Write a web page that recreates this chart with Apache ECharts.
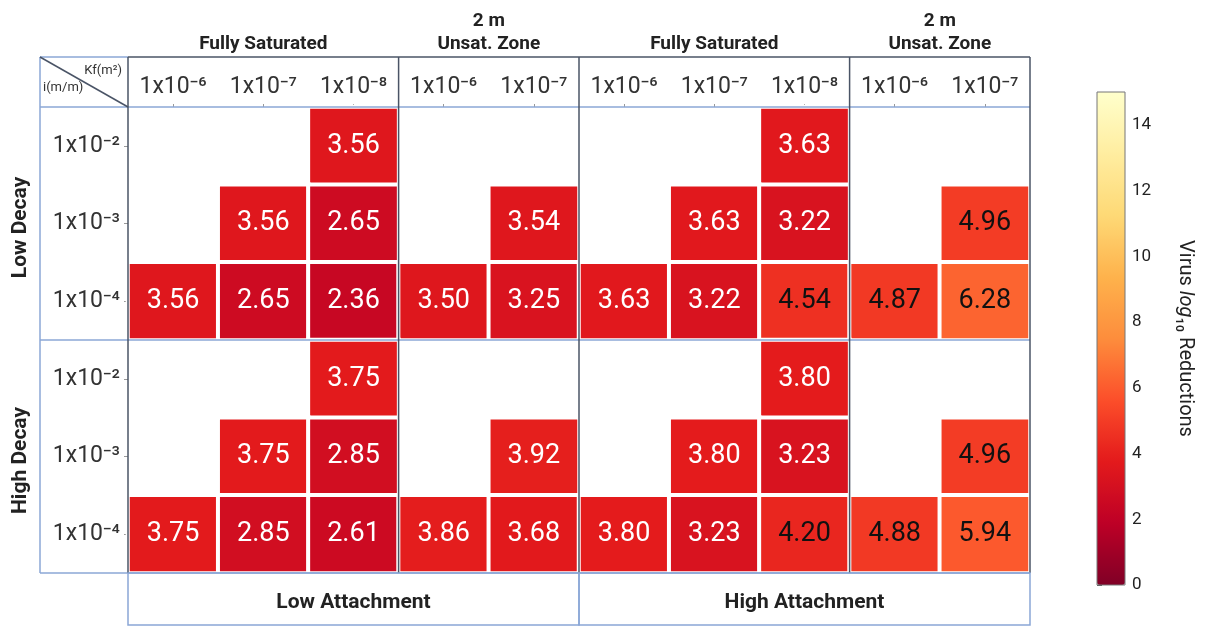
<!DOCTYPE html>
<html>
<head>
<meta charset="utf-8">
<title>Virus log10 reductions</title>
<script src="https://cdn.jsdelivr.net/npm/echarts@6/dist/echarts.min.js"></script>
<style>
  html, body { margin: 0; padding: 0; background: #fff; }
  #chart { width: 1211px; height: 626px; }
</style>
</head>
<body>
<div id="chart"></div>
<script>
// columns: Kf (m2) inside each zone / attachment block
var kfLabels = ['1x10⁻⁶', '1x10⁻⁷', '1x10⁻⁸', '1x10⁻⁶', '1x10⁻⁷', '1x10⁻⁶', '1x10⁻⁷', '1x10⁻⁸', '1x10⁻⁶', '1x10⁻⁷']
// rows: gradient i (m/m), low decay block then high decay block
var gradLabels = ['1x10⁻²', '1x10⁻³', '1x10⁻⁴', '1x10⁻²', '1x10⁻³', '1x10⁻⁴']
var zoneLabels = ['Fully Saturated', '2 m\nUnsat. Zone', 'Fully Saturated', '2 m\nUnsat. Zone']
var zoneSpans = [3, 2, 3, 2]
var attachLabels = ['Low Attachment', 'High Attachment']
var decayLabels = ['Low Decay', 'High Decay']
var cbTicks = [0, 2, 4, 6, 8, 10, 12, 14]

// virus log10 reductions (null = no run)
var lowDecayI2 = [null, null, 3.56, null, null, null, null, 3.63, null, null]
var lowDecayI3 = [null, 3.56, 2.65, null, 3.54, null, 3.63, 3.22, null, 4.96]
var lowDecayI4 = [3.56, 2.65, 2.36, 3.50, 3.25, 3.63, 3.22, 4.54, 4.87, 6.28]
var highDecayI2 = [null, null, 3.75, null, null, null, null, 3.80, null, null]
var highDecayI3 = [null, 3.75, 2.85, null, 3.92, null, 3.80, 3.23, null, 4.96]
var highDecayI4 = [3.75, 2.85, 2.61, 3.86, 3.68, 3.80, 3.23, 4.20, 4.88, 5.94]
var rows = [lowDecayI2, lowDecayI3, lowDecayI4, highDecayI2, highDecayI3, highDecayI4]

var cells = []
rows.forEach(function (row, y) {
  row.forEach(function (v, x) {
    if (v == null) return
    cells.push({ value: [x, y, v], label: { color: v >= 4 ? '#111' : '#fff' } })
  })
})

// layout
var L = 128, T = 107, W = 902, H = 466
var colW = W / 10
var headTop = 57, boxLeft = 40, footBottom = 625
var blue = '#8ba7d6', dark = '#4a5466'
var boldFont = 'Roboto'

var graphic = []
function line(x1, y1, x2, y2, color, w) {
  graphic.push({ type: 'line', z: 100, shape: { x1: x1, y1: y1, x2: x2, y2: y2 }, style: { stroke: color, lineWidth: w || 1.5 } })
}
function text(x, y, str, opts) {
  graphic.push({
    type: 'text', z: 100, x: x, y: y, rotation: opts.rotation || 0,
    style: {
      text: str, fill: opts.color || '#222', fontSize: opts.fontSize || 20,
      fontWeight: opts.fontWeight || 'normal', fontFamily: opts.fontFamily || 'Roboto',
      align: opts.align || 'center', verticalAlign: opts.verticalAlign || 'middle',
      lineHeight: opts.lineHeight
    }
  })
}

// left label box + horizontal blue rules
line(boxLeft, headTop, L, headTop, blue)
line(boxLeft, headTop, boxLeft, T + H, blue)
line(boxLeft, T, L + W, T, blue)
line(boxLeft, T + H / 2, L + W, T + H / 2, blue)
line(boxLeft, T + H, L + W, T + H, blue)
line(boxLeft, headTop, L, T, dark, 1.5)
// header box and block separators
line(L, headTop, L + W, headTop, dark)
var acc = 0
var seps = [0]
zoneSpans.forEach(function (s) { acc += s; seps.push(acc) })
seps.forEach(function (c) { line(L + c * colW, headTop, L + c * colW, T + H, dark) })
// zone titles
zoneLabels.forEach(function (lab, i) {
  var cx = L + (seps[i] + zoneSpans[i] / 2) * colW
  text(cx, 56, lab, { fontSize: 19, fontWeight: 'bold', fontFamily: boldFont, verticalAlign: 'bottom', lineHeight: 23 })
})
// bottom attachment boxes
attachLabels.forEach(function (lab, i) {
  var x0 = L + i * W / 2
  graphic.push({ type: 'rect', z: 100, shape: { x: x0, y: T + H, width: W / 2, height: footBottom - T - H }, style: { fill: 'none', stroke: blue, lineWidth: 1.5 } })
  text(x0 + W / 4, (T + H + footBottom) / 2 + 4, lab, { fontSize: 21, fontWeight: 'bold', fontFamily: boldFont })
})
// decay labels
decayLabels.forEach(function (lab, i) {
  text(21, T + H / 4 + i * H / 2 + 4, lab, { fontSize: 21, fontWeight: 'bold', fontFamily: boldFont, rotation: Math.PI / 2 })
})
// corner cell
text(122, 71, 'Kf(m²)', { fontSize: 13, align: 'right', color: '#333' })
text(43, 88, 'i(m/m)', { fontSize: 13, align: 'left', color: '#333' })

var myChart = echarts.init(document.getElementById('chart'))
var option = {
  backgroundColor: '#fff',
  animation: false,
  grid: [
    { left: L, top: T, width: W, height: H },
    { left: 1097, top: 92, width: 28, height: 493, show: true, borderColor: '#777', borderWidth: 1, backgroundColor: 'transparent', z: 10 }
  ],
  xAxis: [
    {
      type: 'category',
      gridIndex: 0,
      position: 'top',
      data: kfLabels,
      axisLine: { show: false },
      axisTick: { show: true, alignWithLabel: true, length: 3, lineStyle: { color: '#999' } },
      axisLabel: { interval: 0, fontSize: 23, color: '#333', margin: 8, fontFamily: 'Roboto' },
      splitLine: { show: false },
      splitArea: { show: false }
    },
    { type: 'value', gridIndex: 1, show: false, min: 0, max: 1 }
  ],
  yAxis: [
    {
      type: 'category',
      gridIndex: 0,
      inverse: true,
      data: gradLabels,
      axisLine: { show: false },
      axisTick: { show: true, alignWithLabel: true, length: 4, lineStyle: { color: '#999' } },
      axisLabel: { interval: 0, fontSize: 23, color: '#333', margin: 8, fontFamily: 'Roboto' },
      splitLine: { show: false },
      splitArea: { show: false }
    },
    {
      type: 'value',
      gridIndex: 1,
      position: 'right',
      min: 0,
      max: 15,
      axisLine: { show: false },
      axisTick: { show: true, length: 5, customValues: cbTicks, lineStyle: { color: '#555' } },
      axisLabel: { customValues: cbTicks, fontSize: 17, color: '#222', margin: 7, fontFamily: 'Roboto' },
      splitLine: { show: false },
      name: '{a|Virus }{i|log}{a|₁₀ Reductions}',
      nameLocation: 'middle',
      nameRotate: -90,
      nameGap: 50,
      nameTextStyle: {
        rich: {
          a: { fontSize: 20, color: '#222', fontFamily: 'Roboto' },
          i: { fontSize: 20, color: '#222', fontFamily: 'Roboto', fontStyle: 'italic' }
        }
      }
    }
  ],
  visualMap: {
    type: 'continuous',
    seriesIndex: 0,
    min: 0,
    max: 15,
    calculable: false,
    hoverLink: false,
    orient: 'vertical',
    left: 1097,
    top: 92,
    padding: 0,
    itemWidth: 28,
    itemHeight: 493,
    inRange: {
      color: ['#800026', '#bd0026', '#e31a1c', '#fc4e2a', '#fd8d3c', '#feb24c', '#fed976', '#ffeda0', '#ffffcc']
    }
  },
  series: [
    {
      type: 'heatmap',
      xAxisIndex: 0,
      yAxisIndex: 0,
      data: cells,
      itemStyle: { borderColor: '#fff', borderWidth: 4 },
      label: {
        show: true,
        fontSize: 27,
        fontFamily: 'Roboto',
        formatter: function (p) { return p.value[2].toFixed(2) }
      },
      emphasis: { disabled: true }
    }
  ],
  graphic: graphic
}
option && myChart.setOption(option)
</script>
</body>
</html>
